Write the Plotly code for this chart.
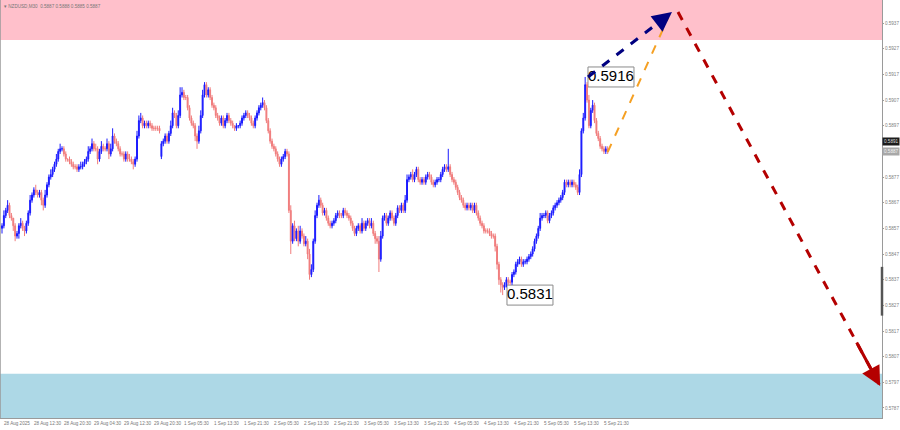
import plotly.graph_objects as go

# ---------------- data ----------------
BASE = 0.58  # closes / wicks are in pips above this base
closes = [
    58, 62, 64, 66, 62, 61, 58, 54,
    55, 58, 59, 57, 56, 59, 63, 68,
    70, 72, 71, 70, 71, 68, 66, 70,
    74, 77, 78, 80, 82, 84, 87, 88,
    88, 86, 84, 84, 83, 82, 81, 81,
    80, 81, 81, 82, 83, 84, 87, 88,
    90, 88, 88, 84, 87, 89, 88, 88,
    90, 86, 88, 93, 91, 90, 88, 86,
    86, 84, 86, 84, 84, 83, 82, 84,
    93, 99, 100, 97, 98, 97, 98, 97,
    96, 96, 96, 96, 95, 90, 91, 93,
    91, 94, 97, 102, 101, 97, 101, 109,
    110, 108, 108, 104, 100, 98, 97, 93,
    91, 95, 101, 109, 113, 109, 111, 108,
    105, 104, 101, 100, 98, 100, 97, 99,
    101, 99, 98, 97, 96, 97, 97, 98,
    100, 101, 102, 101, 100, 98, 97, 100,
    102, 104, 105, 106, 104, 99, 95, 91,
    89, 88, 86, 84, 82, 84, 85, 87,
    86, 64, 52, 58, 53, 56, 52, 56,
    54, 51, 52, 47, 39, 41, 52, 62,
    66, 68, 66, 63, 64, 61, 59, 58,
    59, 60, 62, 63, 62, 62, 64, 63,
    62, 61, 59, 57, 55, 57, 58, 56,
    59, 57, 59, 60, 58, 59, 55, 53,
    52, 45, 54, 61, 62, 59, 61, 63,
    61, 59, 62, 65, 64, 66, 64, 68,
    76, 77, 78, 76, 78, 80, 76, 75,
    76, 75, 77, 78, 77, 75, 74, 75,
    76, 76, 78, 80, 81, 80, 81, 78,
    76, 75, 73, 71, 69, 68, 66, 65,
    66, 65, 66, 64, 66, 63, 61, 59,
    58, 56, 56, 56, 55, 54, 54, 50,
    43, 37, 35, 34, 35, 37, 36, 36,
    39, 40, 43, 44, 45, 43, 44, 44,
    45, 46, 47, 49, 52, 54, 57, 61,
    62, 62, 63, 60, 62, 63, 65, 66,
    67, 68, 69, 71, 75, 74, 75, 74,
    75, 74, 73, 71, 78, 95, 100, 113,
    107, 97, 103, 105, 99, 94, 92, 89,
    88, 87, 88, 87,
]
upper_wicks = [
    1, 2, 1, 2, 1, 1, 0, 1,
    1, 1, 2, 1, 1, 1, 1, 2,
    1, 1, 2, 1, 1, 1, 1, 2,
    1, 1, 2, 1, 1, 2, 1, 2,
    1, 1, 1, 0, 1, 1, 1, 1,
    1, 1, 2, 1, 1, 1, 2, 1,
    2, 1, 2, 1, 1, 2, 1, 1,
    2, 1, 2, 3, 1, 1, 1, 1,
    1, 1, 1, 1, 2, 1, 1, 1,
    2, 2, 2, 1, 1, 1, 1, 1,
    1, 1, 1, 1, 1, 1, 1, 1,
    1, 1, 2, 2, 1, 1, 2, 3,
    2, 1, 1, 1, 1, 1, 1, 1,
    1, 2, 2, 2, 1, 1, 1, 1,
    1, 1, 1, 1, 1, 1, 1, 1,
    1, 1, 1, 1, 0, 1, 0, 1,
    1, 1, 1, 1, 1, 1, 1, 1,
    1, 1, 1, 2, 1, 1, 1, 1,
    1, 1, 1, 1, 1, 1, 1, 1,
    1, 1, 2, 1, 2, 1, 2, 2,
    1, 1, 2, 1, 2, 2, 1, 2,
    1, 2, 1, 1, 1, 1, 1, 1,
    1, 1, 1, 1, 1, 1, 1, 1,
    1, 1, 1, 1, 1, 1, 1, 1,
    2, 1, 1, 1, 1, 2, 1, 1,
    1, 2, 2, 1, 1, 1, 1, 1,
    1, 1, 1, 1, 1, 1, 1, 2,
    2, 1, 1, 2, 1, 1, 1, 1,
    1, 1, 1, 1, 1, 1, 1, 1,
    1, 1, 1, 1, 1, 1, 7, 1,
    1, 1, 1, 1, 1, 1, 1, 1,
    1, 1, 1, 1, 1, 1, 1, 1,
    1, 1, 1, 1, 1, 1, 1, 1,
    1, 1, 1, 1, 1, 1, 1, 1,
    1, 1, 1, 1, 1, 1, 1, 1,
    1, 1, 1, 1, 1, 1, 1, 2,
    1, 1, 1, 1, 1, 1, 1, 1,
    1, 1, 1, 1, 1, 1, 1, 1,
    1, 1, 1, 1, 2, 1, 2, 3,
    1, 2, 1, 2, 1, 1, 1, 1,
    1, 1, 1, 1,
]
lower_wicks = [
    2, 1, 1, 1, 1, 1, 2, 2,
    1, 2, 1, 1, 2, 1, 1, 1,
    1, 1, 1, 1, 1, 2, 2, 1,
    1, 1, 1, 1, 1, 1, 1, 1,
    1, 1, 1, 1, 1, 1, 1, 1,
    1, 1, 1, 1, 1, 1, 1, 1,
    1, 1, 1, 2, 1, 1, 1, 1,
    1, 2, 1, 1, 1, 1, 1, 1,
    1, 1, 1, 1, 1, 1, 2, 1,
    1, 1, 1, 1, 1, 1, 1, 1,
    1, 1, 1, 1, 1, 1, 1, 1,
    1, 1, 1, 1, 1, 1, 1, 1,
    1, 1, 1, 1, 1, 1, 1, 2,
    3, 1, 1, 1, 1, 1, 1, 1,
    1, 1, 1, 1, 1, 1, 1, 1,
    1, 1, 1, 1, 1, 1, 1, 1,
    1, 1, 1, 1, 1, 1, 1, 1,
    1, 1, 1, 1, 1, 1, 1, 1,
    1, 1, 1, 1, 1, 1, 1, 1,
    1, 1, 5, 1, 1, 1, 2, 1,
    1, 1, 1, 2, 2, 1, 1, 1,
    1, 1, 1, 1, 1, 1, 1, 1,
    1, 1, 1, 1, 1, 1, 1, 1,
    1, 1, 1, 1, 1, 1, 1, 1,
    1, 1, 1, 1, 1, 1, 1, 2,
    1, 5, 1, 1, 1, 1, 1, 1,
    1, 1, 1, 1, 1, 1, 1, 1,
    1, 1, 1, 1, 1, 1, 1, 1,
    1, 1, 1, 1, 1, 1, 1, 1,
    1, 1, 1, 1, 1, 1, 1, 1,
    1, 1, 1, 1, 1, 1, 1, 1,
    1, 1, 1, 1, 1, 1, 1, 1,
    1, 1, 1, 1, 1, 1, 1, 2,
    2, 2, 3, 3, 1, 1, 1, 1,
    1, 1, 1, 1, 1, 1, 1, 1,
    1, 1, 1, 1, 1, 1, 1, 1,
    1, 1, 1, 1, 1, 1, 1, 1,
    1, 1, 1, 1, 1, 1, 1, 1,
    1, 1, 1, 1, 1, 1, 1, 1,
    1, 1, 1, 1, 1, 1, 1, 1,
    1, 1, 1, 1,
]
first_open = 57
open_overrides = {85: 85}  # weekend gap

x_tick_labels = [
    "28 Aug 2025", "28 Aug 12:30", "28 Aug 20:30", "29 Aug 04:30", "29 Aug 12:30",
    "29 Aug 20:30", "1 Sep 05:30", "1 Sep 13:30", "1 Sep 21:30", "2 Sep 05:30",
    "2 Sep 13:30", "2 Sep 21:30", "3 Sep 05:30", "3 Sep 13:30", "3 Sep 21:30",
    "4 Sep 05:30", "4 Sep 13:30", "4 Sep 21:30", "5 Sep 05:30", "5 Sep 13:30",
    "5 Sep 21:30",
]
bars_per_label = 16
y_tick_values = [0.5787, 0.5797, 0.5807, 0.5817, 0.5827, 0.5837, 0.5847, 0.5857,
                 0.5867, 0.5877, 0.5887, 0.5897, 0.5907, 0.5917, 0.5927, 0.5937]

sell_zone = (0.59304, 0.5946)
buy_zone = (0.5783, 0.58003)
extreme_labels = [(312.5, 0.5916), (269.3, 0.5831)]  # (bar position, price)
bid_price = 0.5887
ask_box = 0.5891

# forecast path points (bar index, price)
wave_up = [(312.5, 0.59160), (357.3, 0.59413)]
wave_branch = [(323.0, 0.58867), (355.2, 0.59390)]
wave_down = [(360.5, 0.59413), (468.3, 0.57956)]

# ---------------- derived OHLC ----------------
n = len(closes)
xs = list(range(n))
opens, highs, lows, cl = [], [], [], []
prev = first_open
for i in range(n):
    o = open_overrides.get(i, prev)
    c = closes[i]
    h = max(o, c) + upper_wicks[i]
    l = min(o, c) - lower_wicks[i]
    opens.append(BASE + o / 10000)
    cl.append(BASE + c / 10000)
    highs.append(BASE + h / 10000)
    lows.append(BASE + l / 10000)
    prev = c

X0, X1 = -1.07, 469.3
Y0, Y1 = 0.57831, 0.59460

fig = go.Figure()
fig.add_trace(go.Candlestick(
    x=xs, open=opens, high=highs, low=lows, close=cl,
    increasing=dict(line=dict(color="#1a1aff", width=1), fillcolor="#1a1aff"),
    decreasing=dict(line=dict(color="#f07c7c", width=1), fillcolor="#f07c7c"),
    whiskerwidth=0, showlegend=False, hoverinfo="skip",
))

# extreme price labels (text; box drawn as shape below traces)
fig.add_trace(go.Scatter(
    x=[p[0] for p in extreme_labels], y=[p[1] for p in extreme_labels],
    mode="text", text=[f"{p[1]:.4f}" for p in extreme_labels], textposition="middle right",
    textfont=dict(family="Liberation Sans, Arial", size=15, color="#000000"),
    showlegend=False, hoverinfo="skip",
))

for pts, col, w in [(wave_up, "#000080", 3), (wave_branch, "#f5a023", 2), (wave_down, "#b40000", 3)]:
    fig.add_trace(go.Scatter(
        x=[p[0] for p in pts], y=[p[1] for p in pts], mode="lines",
        line=dict(color=col, width=w, dash="dash"), showlegend=False, hoverinfo="skip",
    ))

shapes = [
    dict(type="rect", xref="paper", x0=0, x1=1, yref="y", y0=sell_zone[0], y1=sell_zone[1],
         fillcolor="#ffc0cb", line=dict(width=0), layer="below"),
    dict(type="rect", xref="paper", x0=0, x1=1, yref="y", y0=buy_zone[0], y1=buy_zone[1],
         fillcolor="#add8e6", line=dict(width=0), layer="below"),
    dict(type="line", xref="paper", x0=0, x1=0, yref="paper", y0=0, y1=1,
         line=dict(color="#9a9a9a", width=1.5)),
    dict(type="line", xref="paper", x0=1, x1=1, yref="y", y0=0.5823, y1=0.5842,
         line=dict(color="#555555", width=2.5)),
]
for bx, price in extreme_labels:
    shapes.append(dict(
        type="rect", layer="below", xref="x", yref="y",
        xsizemode="pixel", ysizemode="pixel", xanchor=bx, yanchor=price,
        x0=0, x1=46, y0=-10, y1=10,
        fillcolor="#ffffff", line=dict(color="#8a8a8a", width=1),
    ))

annotations = []
# arrowheads
for (p0, p1), col in [(wave_up, "#000080"), (wave_down, "#b40000")]:
    fx = p1[0] - 0.12 * (p1[0] - p0[0])
    fy = p1[1] - 0.12 * (p1[1] - p0[1])
    annotations.append(dict(
        x=p1[0], y=p1[1], ax=fx, ay=fy, xref="x", yref="y", axref="x", ayref="y",
        showarrow=True, arrowhead=2, arrowsize=1.3, arrowwidth=3, arrowcolor=col, text="",
    ))

# x-axis labels (left aligned at their bars)
for k, lab in enumerate(x_tick_labels):
    annotations.append(dict(
        x=k * bars_per_label, y=0, xref="x", yref="paper", xanchor="left", yanchor="top",
        xshift=0, yshift=-1, text=lab, showarrow=False,
        font=dict(family="Liberation Sans, Arial", size=4.6, color="#777777"),
    ))

# right-axis price boxes
annotations.append(dict(
    x=1, y=ask_box, xref="paper", yref="y", xanchor="left", yanchor="middle", xshift=0,
    text=f"{ask_box:.4f}", showarrow=False, bgcolor="#1c1c1c",
    font=dict(family="Liberation Sans, Arial", size=4.6, color="#dddddd"), borderpad=1,
))
annotations.append(dict(
    x=1, y=bid_price, xref="paper", yref="y", xanchor="left", yanchor="middle", xshift=0,
    text=f"{bid_price:.4f}", showarrow=False, bgcolor="#a8a8a8",
    font=dict(family="Liberation Sans, Arial", size=4.6, color="#f4f4f4"), borderpad=1,
))

# title
annotations.append(dict(
    x=0, y=1, xref="paper", yref="paper", xanchor="left", yanchor="top", xshift=2, yshift=-2,
    text="▾ NZDUSD,M30  0.5887 0.5888 0.5885 0.5887", showarrow=False,
    font=dict(family="Liberation Sans, Arial", size=4.6, color="#777777"),
))

fig.update_layout(
    width=900, height=430,
    margin=dict(l=0, r=18, t=0, b=12),
    paper_bgcolor="#ffffff", plot_bgcolor="#ffffff",
    shapes=shapes, annotations=annotations,
    xaxis=dict(range=[X0, X1], showgrid=False, zeroline=False, showticklabels=False,
               rangeslider=dict(visible=False), showline=True, linecolor="#9a9a9a",
               linewidth=1, ticks="", fixedrange=True),
    yaxis=dict(range=[Y0, Y1], side="right", showgrid=False, zeroline=False,
               tickvals=y_tick_values, ticktext=[f"{v:.4f}" for v in y_tick_values],
               tickfont=dict(family="Liberation Sans, Arial", size=4.6, color="#808080"),
               ticks="outside", ticklen=1, tickcolor="#9a9a9a",
               showline=True, linecolor="#9a9a9a", linewidth=1, fixedrange=True),
)

fig.write_html(
    "out.html",
    config={"displayModeBar": False},
    post_script="document.body.style.margin='0';document.body.style.overflow='hidden';",
)
